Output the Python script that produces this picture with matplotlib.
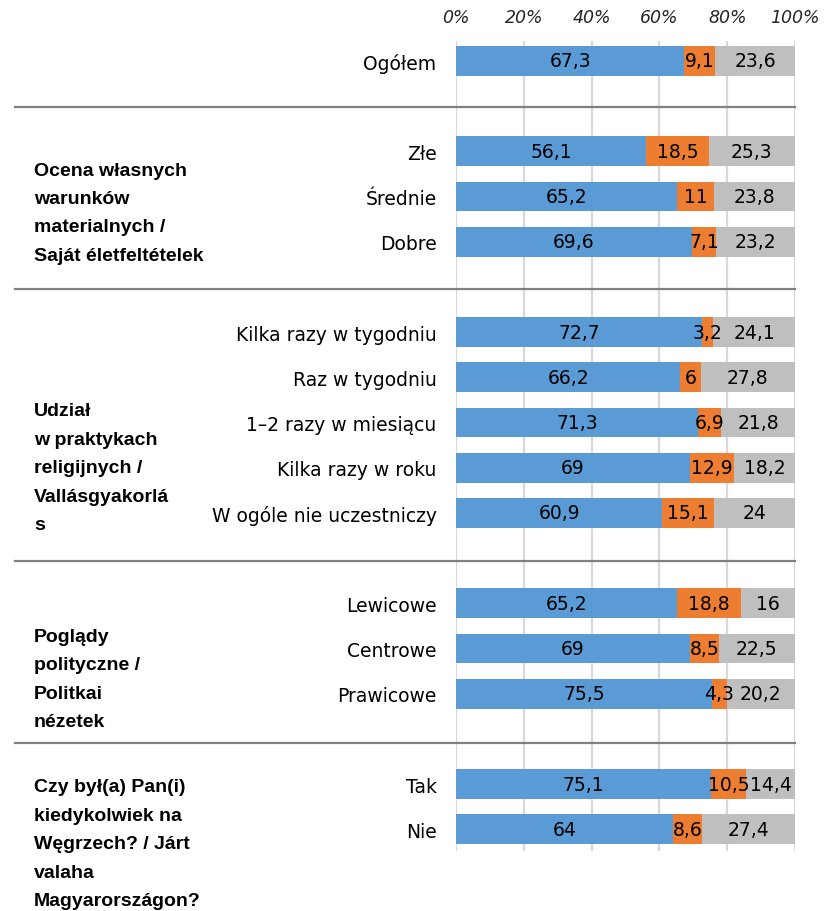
import matplotlib.pyplot as plt
from matplotlib.transforms import blended_transform_factory

categories = ['Ogółem', 'Złe', 'Średnie', 'Dobre',
              'Kilka razy w tygodniu', 'Raz w tygodniu', '1–2 razy w miesiącu',
              'Kilka razy w roku', 'W ogóle nie uczestniczy',
              'Lewicowe', 'Centrowe', 'Prawicowe', 'Tak', 'Nie']
positions = [0, 2, 3, 4, 6, 7, 8, 9, 10, 12, 13, 14, 16, 17]
blue_vals = [67.3, 56.1, 65.2, 69.6, 72.7, 66.2, 71.3, 69, 60.9, 65.2, 69, 75.5, 75.1, 64]
orange_vals = [9.1, 18.5, 11, 7.1, 3.2, 6, 6.9, 12.9, 15.1, 18.8, 8.5, 4.3, 10.5, 8.6]
gray_vals = [23.6, 25.3, 23.8, 23.2, 24.1, 27.8, 21.8, 18.2, 24, 16, 22.5, 20.2, 14.4, 27.4]

group_labels = ['Ocena własnych\nwarunków\nmaterialnych /\nSaját életfeltételek',
                'Udział\nw praktykach\nreligijnych /\nVallásgyakorlá\ns',
                'Poglądy\npolityczne /\nPolitkai\nnézetek',
                'Czy był(a) Pan(i)\nkiedykolwiek na\nWęgrzech? / Járt\nvalaha\nMagyarországon?']
group_label_y = [3.36, 9.0, 13.67, 17.32]
separators = [1.02, 5.04, 11.06, 15.09]

colors = ['#5B9BD5', '#ED7D31', '#BFBFBF']


def fmt(v):
    if v == int(v):
        return str(int(v))
    return ('%.1f' % v).replace('.', ',')


fig = plt.figure(figsize=(8.34, 9.12), dpi=100)
ax = fig.add_axes([456 / 834, 1 - 852 / 912, 339 / 834, 810 / 912])

left = [0] * len(positions)
for vals, c in zip([blue_vals, orange_vals, gray_vals], colors):
    ax.barh(positions, vals, left=left, height=0.66, color=c, zorder=3)
    for y, v, l in zip(positions, vals, left):
        ax.text(l + v / 2, y, fmt(v), ha='center', va='center',
                fontsize=13.5, color='black', zorder=4)
    left = [a + b for a, b in zip(left, vals)]

ax.set_xlim(0, 100)
ax.set_ylim(17.48, -0.44)
ax.set_xticks([0, 20, 40, 60, 80, 100])
ax.set_xticklabels(['0%', '20%', '40%', '60%', '80%', '100%'],
                   fontstyle='italic', fontsize=12.5, color='#262626')
ax.xaxis.tick_top()
ax.tick_params(axis='x', length=0, pad=11)
ax.set_yticks(positions)
ax.set_yticklabels(categories, fontsize=13.5)
ax.tick_params(axis='y', length=0, pad=14)
ax.grid(axis='x', color='#D9D9D9', linewidth=1.6, zorder=0)
ax.set_axisbelow(True)
for s in ax.spines.values():
    s.set_visible(False)

trans = blended_transform_factory(ax.transAxes, ax.transData)
for y in separators:
    ax.plot([(15 - 456) / 339, 1.0], [y, y], transform=trans, color='#808080',
            linewidth=1.6, clip_on=False, zorder=5)

for txt, y in zip(group_labels, group_label_y):
    ax.text((34 - 456) / 339, y, txt, transform=trans, ha='left', va='center',
            fontsize=14, fontweight='bold', family='Liberation Sans',
            linespacing=1.88)

fig.savefig('out.png', dpi=100)
